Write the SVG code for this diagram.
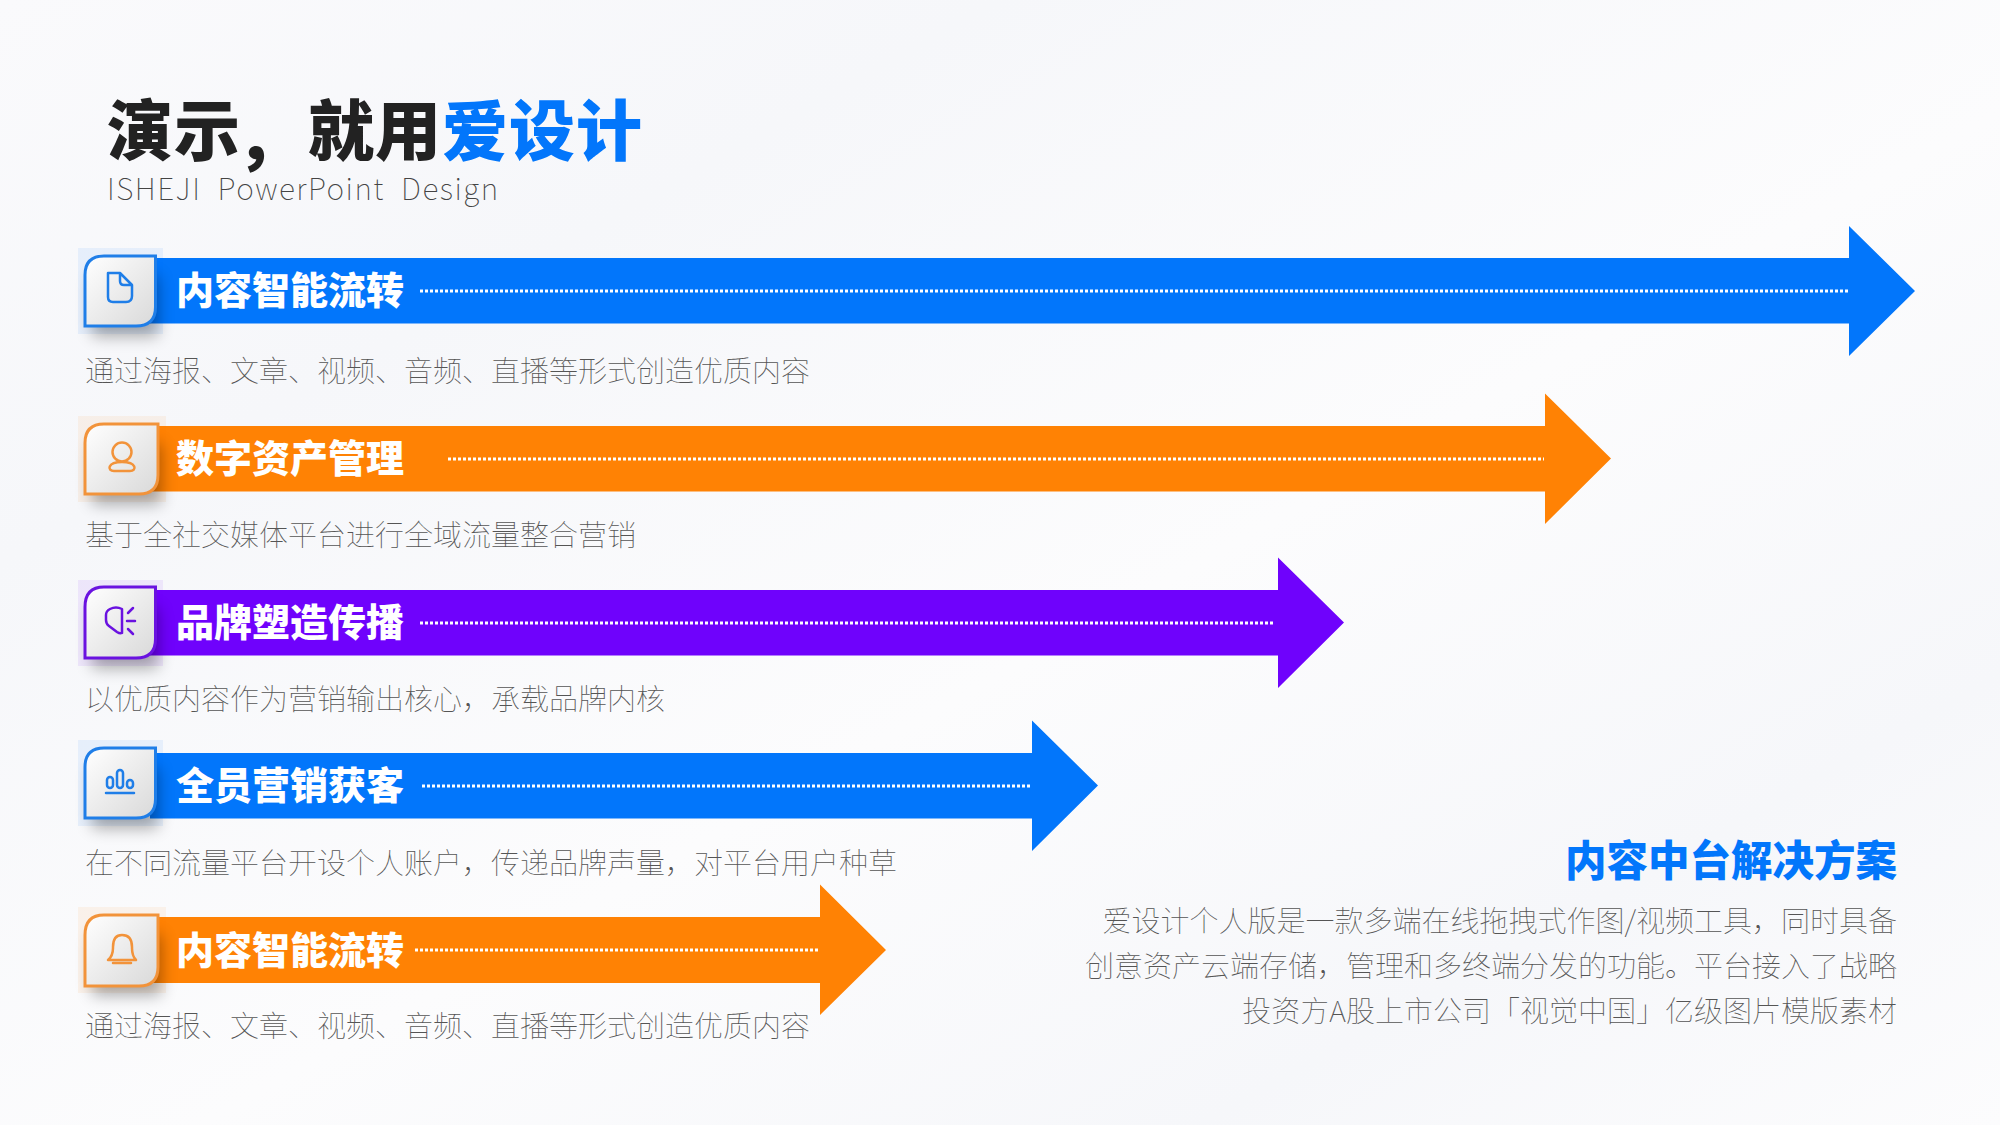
<svg xmlns="http://www.w3.org/2000/svg" width="2000" height="1125" viewBox="0 0 2000 1125">
<defs>
<linearGradient id="bg" x1="0" y1="0" x2="1" y2="1"><stop offset="0" stop-color="#fafafc"/><stop offset="0.25" stop-color="#f6f7fa"/><stop offset="0.55" stop-color="#fcfcfd"/><stop offset="0.8" stop-color="#f6f7fa"/><stop offset="1" stop-color="#fcfcfd"/></linearGradient>
<linearGradient id="box" x1="0" y1="0" x2="1" y2="1"><stop offset="0" stop-color="#ffffff"/><stop offset="1" stop-color="#d9d9d9"/></linearGradient>
<filter id="sh" x="-40%" y="-40%" width="190%" height="190%"><feGaussianBlur stdDeviation="8"/></filter>
<style>
text{font-family:"Noto Sans CJK SC","Noto Sans",sans-serif}
.t{font-size:66px;font-weight:900;fill:#222;letter-spacing:1px}
.sub{font-size:30px;font-weight:100;fill:#444;letter-spacing:1.500px;white-space:pre}
.l{font-size:38px;font-weight:900;fill:#fff}
.d{font-size:29px;font-weight:100;fill:#555}
.r{font-size:29px;font-weight:100;fill:#555;text-anchor:end}
.dot{stroke:#fff;stroke-width:3;stroke-dasharray:3 2;fill:none}
.ic{fill:none;stroke-width:2.500;stroke-linecap:round;stroke-linejoin:round}
.bl{fill:#0276fb}.or{fill:#ff8204}.pu{fill:#6f02fc}
.box{fill:url(#box);stroke-width:3}
</style>
</defs>
<rect width="2000" height="1125" fill="url(#bg)"/>
<text class="t" x="107" y="155">演示<tspan dx="-5" dy="7">，</tspan><tspan dx="5" dy="-7">就用</tspan><tspan fill="#0276fb">爱设计</tspan></text>
<text class="sub" x="107" y="200">ISHEJI  PowerPoint  Design</text>
<g id="connectors">
<path class="bl" d="M150 258H1849V226L1915 291L1849 356V323.500H150Z"/>
<path class="or" d="M150 426H1545V393.500L1611 458.500L1545 524V491.500H150Z"/>
<path class="pu" d="M150 590H1278V557.500L1344 622.500L1278 688V655.500H150Z"/>
<path class="bl" d="M150 753H1032V720.500L1098 785.500L1032 851V818.500H150Z"/>
<path class="or" d="M150 917H820V884.500L886 950L820 1015V983H150Z"/>
<path class="dot" d="M420 291H1849"/>
<path class="dot" d="M448 459H1544"/>
<path class="dot" d="M420 623H1274"/>
<path class="dot" d="M422 786H1032"/>
<path class="dot" d="M415 950H820"/>
</g>
<g id="node1">
<rect x="78" y="248" width="85" height="86" fill="#0276fb" opacity="0.07"/>
<rect x="92" y="276" width="66" height="60" fill="#000" opacity="0.33" filter="url(#sh)"/>
<path class="box" stroke="#1f7ee8" d="M85 326V275Q85 256 104 256H155.500V307Q155.500 326 136 326Z"/>
<path class="ic" stroke="#1f7ee8" d="M108 273H120L132 285V296Q132 302 126 302H113Q108 302 108 297ZM120 273V281Q120 285 124 285H132"/>
<text class="l" x="176" y="304">内容智能流转</text>
<text class="d" x="85" y="382">通过海报、文章、视频、音频、直播等形式创造优质内容</text>
</g>
<g id="node2">
<rect x="78" y="416" width="88" height="86" fill="#ff8204" opacity="0.07"/>
<rect x="92" y="444" width="69" height="60" fill="#000" opacity="0.33" filter="url(#sh)"/>
<path class="box" stroke="#f2933a" d="M85 494V443Q85 424 104 424H158V475Q158 494 139 494Z"/>
<g class="ic" stroke="#f2933a"><circle cx="122" cy="452" r="9.500"/><path d="M114 471H130C137 471 137 462 122 462C107 462 107 471 114 471Z"/></g>
<text class="l" x="176" y="472">数字资产管理</text>
<text class="d" x="85" y="546">基于全社交媒体平台进行全域流量整合营销</text>
</g>
<g id="node3">
<rect x="78" y="580" width="85" height="86" fill="#6f02fc" opacity="0.07"/>
<rect x="92" y="608" width="66" height="60" fill="#000" opacity="0.33" filter="url(#sh)"/>
<path class="box" stroke="#6a12e0" d="M85 658V607Q85 587 104 587H155.500V639Q155.500 658 136 658Z"/>
<path class="ic" stroke="#6a12e0" d="M122 609V633Q120 634 117 632L109 626Q106 624 106 620V615Q106 611 110 609Q116 606 122 609ZM127 621H135M128 613L133 608M128 629L133 634"/>
<text class="l" x="176" y="636">品牌塑造传播</text>
<text class="d" x="85" y="710">以优质内容作为营销输出核心，承载品牌内核</text>
</g>
<g id="node4">
<rect x="78" y="740" width="85" height="86" fill="#0276fb" opacity="0.07"/>
<rect x="92" y="768" width="66" height="60" fill="#000" opacity="0.33" filter="url(#sh)"/>
<path class="box" stroke="#1f7ee8" d="M85 818V767Q85 748 104 748H155.500V799Q155.500 818 136 818Z"/>
<g class="ic" stroke="#1f7ee8"><rect x="107" y="777" width="6" height="11" rx="3"/><rect x="117" y="770" width="6" height="18" rx="3"/><rect x="127" y="780" width="6" height="8" rx="3"/><path d="M106 793H134"/></g>
<text class="l" x="176" y="799">全员营销获客</text>
<text class="d" x="85" y="874">在不同流量平台开设个人账户，传递品牌声量，对平台用户种草</text>
</g>
<g id="node5">
<rect x="78" y="907" width="88" height="86" fill="#ff8204" opacity="0.07"/>
<rect x="92" y="935" width="69" height="60" fill="#000" opacity="0.33" filter="url(#sh)"/>
<path class="box" stroke="#f2933a" d="M85 986V935Q85 915 104 915H158V967Q158 986 139 986Z"/>
<g class="ic" stroke="#f2933a"><path d="M108 960Q113 956 113 948V947Q113 935 122 935Q132 935 132 947V948Q132 956 136 960ZM113 963H131"/></g>
<text class="l" x="176" y="964">内容智能流转</text>
<text class="d" x="85" y="1037">通过海报、文章、视频、音频、直播等形式创造优质内容</text>
</g>
<g id="panel">
<text x="1897" y="876" text-anchor="end" style="font-size:41.500px;font-weight:900;fill:#0276fb">内容中台解决方案</text>
<text class="r" x="1897" y="932">爱设计个人版是一款多端在线拖拽式作图/视频工具，同时具备</text>
<text class="r" x="1897" y="977">创意资产云端存储，管理和多终端分发的功能。平台接入了战略</text>
<text class="r" x="1897" y="1022">投资方A股上市公司「视觉中国」亿级图片模版素材</text>
</g>
</svg>
